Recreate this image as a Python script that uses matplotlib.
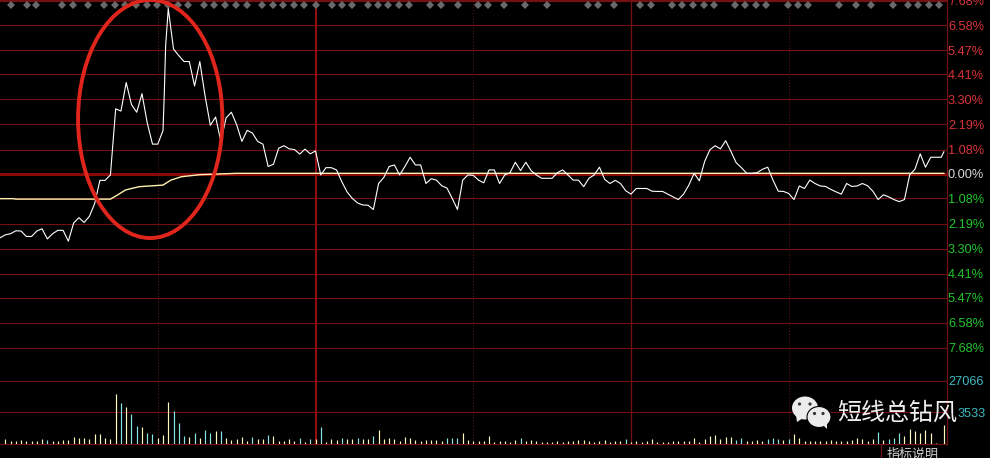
import matplotlib
matplotlib.use("Agg")
import matplotlib.pyplot as plt
from matplotlib.patches import Ellipse, Polygon

plt.rcParams['font.family'] = ['Liberation Sans', 'Noto Sans CJK SC', 'DejaVu Sans']

W, H = 990, 458
PANEL_RIGHT = 946.5
PRICE_BOTTOM = 380.7
VOL_BOTTOM = 444.0

# Price line: time positions and percent change
price_times = sorted([*range(0, 64, 2), 62.5, 63, *range(64, 360, 2), 359])
price_open = [-2.82, -2.69, -2.64, -2.51, -2.52, -2.76, -2.76, -2.52, -2.42, -2.87, -2.64,
              -2.49, -2.49, -2.97, -2.17, -1.93, -2.14, -1.87, -1.31, -0.28, -0.28, -0.04,
              2.88, 2.78, 4.04, 3.07, 2.73, 3.55, 2.26, 1.32, 1.32, 1.92, 3.59, 5.67,
              7.31, 5.52, 5.23, 4.97, 4.97, 3.89, 4.97, 3.45, 2.15, 2.52, 1.44, 2.48, 2.73,
              2.18, 1.44, 1.93, 1.81, 1.44, 1.32, 0.33, 0.43, 1.14, 1.25, 1.11, 1.08, 0.88,
              1.10, 0.89, 1.02]
price_mid = [-0.04, 0.28, 0.28, 0.18, -0.34, -0.79, -1.08, -1.28, -1.37, -1.38, -1.57, -0.42,
             -0.15, 0.33, 0.40, -0.04, 0.33, 0.74, 0.40, 0.40, -0.42, -0.21, -0.27, -0.52,
             -0.62, -1.08, -1.57, -0.27, -0.04, -0.06, -0.27, -0.39, 0.18, 0.18, -0.42, -0.04,
             0.06, 0.52, 0.15, 0.52, 0.15, -0.04, -0.19, -0.19, -0.19, 0.06, 0.18, -0.04,
             -0.27, -0.27, -0.56, -0.19, -0.04, 0.30, -0.24, -0.42, -0.28, -0.42, -0.74, -0.89]
price_late = [-0.64, -0.64, -0.64, -0.76, -0.77, -0.77, -0.89, -1.01, -1.13, -0.89, -0.49, 0.03,
              -0.30, 0.55, 1.07, 1.25, 1.11, 1.47, 1.00, 0.50, 0.28, 0.03, 0.03, 0.06, 0.21,
              0.30, -0.27, -0.76, -0.77, -0.86, -1.13, -0.53, -0.64, -0.27, -0.42, -0.53, -0.55,
              -0.68, -0.79, -0.89, -0.42, -0.55, -0.53, -0.42, -0.52, -0.76, -1.13, -0.92, -1.01,
              -1.13, -1.22, -1.13, -0.04, 0.21, 0.89, 0.30, 0.74, 0.74, 0.74, 0.98]
price_values = price_open + price_mid + price_late

# Average line
avg_times = [0, 5, 6, 42, 44.5, 47.7, 50, 53, 62, 65, 69, 76, 90, 359]
avg_values = [-1.09, -1.09, -1.11, -1.11, -0.94, -0.71, -0.64, -0.56, -0.49, -0.27, -0.12, -0.03, 0.03, 0.03]

# Percent scale
pct_ticks = [7.68, 6.58, 5.47, 4.41, 3.30, 2.19, 1.08, 0.00, -1.08, -2.19, -3.30, -4.41, -5.47, -6.58, -7.68]

# Volume bars
volume = [2240, 1400, 1400, 1820, 1400, 1400, 1400, 2240, 1820, 1400, 1140, 1570, 1820, 3090, 2410,
          2410, 1990, 4230, 4360, 2660, 2240, 21570, 17340, 15950, 12820, 7740, 7320, 4780, 4360,
          2660, 3930, 17890, 14090, 9010, 3510, 3090, 4780, 2660, 6050, 4780, 5630, 5630, 2660,
          1820, 2240, 3090, 1400, 3090, 2240, 2240, 3930, 3510, 1400, 1400, 2240, 1400, 2660, 970,
          2240, 2240, 7320, 970,
          2240, 1820, 2660, 2240, 2240, 2660, 2240, 2240, 3510, 6050, 2240, 2660, 2240, 1400, 3090,
          2660, 1820, 1400, 1820, 1820, 1820, 1400, 2660, 2660, 2660, 4780, 1820, 1140, 1400, 1400,
          3510, 970, 1400, 1400, 970, 1820, 2660, 1400, 1820, 1400, 970, 970, 970, 1400, 970, 1400,
          1400, 1820, 1820, 1400, 970, 1400, 1820, 970, 1400, 1400, 2240, 970, 1400, 970, 1400,
          2240, 970,
          720, 970, 1270, 1270, 1270, 1270, 2540, 970, 2115, 3380, 3810, 2115, 2960, 2960, 1690,
          2540, 1270, 1270, 1690, 1270, 2115, 2540, 2115, 1690, 2115, 4230, 2540, 1270, 1270, 1270,
          1270, 1270, 1690, 1270, 1270, 1270, 1690, 2540, 2115, 1270, 2115, 5080, 1690, 2115, 2540,
          4650, 3380, 6350, 5500, 4650, 5920, 4650, 423, 0, 8040]
bar_times = [*range(2, 360, 2), 359]
cyan_bars = [9, 23, 25, 26, 28, 29, 33, 34, 35, 37, 39, 40, 42, 48, 51, 57, 59, 61,
             65, 68, 71, 85, 86, 87, 99, 119, 140, 141, 146, 147, 148, 150, 167, 169, 170, 171]
vol_ticks = [13533, 27066]
vol_labels = ['3533', '27066']

# Signal diamonds along the top
signal_times = [4.2, 10.3, 13.7, 23.6, 27.8, 33.5, 39.6, 43.8, 47.6, 51.8, 56, 59.8, 64, 67.8, 71.6,
                77.7, 81.5, 85.7, 89.9, 94.1, 99.8, 104, 107.8, 112, 115.8, 120, 126.1, 129.9,
                133.7, 139.8, 143.6, 147.4, 151.6, 155.4, 163.4, 167.6, 174.1, 181.7, 185.5, 191.6,
                199.6, 208, 223.6, 227.4, 233.5, 243.4, 247.6, 255.6, 259.4, 263.6, 267.8, 271.6,
                279.6, 283.4, 287.6, 291.4, 299.8, 303.6, 307.4, 319.2, 325.7, 331.4, 339.8, 345.5,
                349.3, 353.5, 357.3]

GRID = '#721014'
BRIGHT = '#8f0f12'
UP = '#d8343a'
DOWN = '#22c62c'
CYAN = '#3fb8c0'

fig = plt.figure(figsize=(W / 100, H / 100), dpi=100, facecolor='black')

ax = fig.add_axes([0, 1 - PRICE_BOTTOM / H, PANEL_RIGHT / W, PRICE_BOTTOM / H], facecolor='black')
ax.set_xlim(0, 360)
ax.set_ylim(-(PRICE_BOTTOM - 174) / 22.63, 174 / 22.63)

ax.yaxis.tick_right()
ax.set_yticks(pct_ticks)
ax.set_yticklabels([f'{abs(v):.2f}%' for v in pct_ticks], fontsize=9.2)
for lab, v in zip(ax.get_yticklabels(), pct_ticks):
    lab.set_color(UP if v > 0 else DOWN if v < 0 else '#d8d8d8')
ax.tick_params(axis='y', length=0, pad=1)
ax.set_xticks([])
ax.grid(axis='y', color=GRID, lw=0.8)
ax.set_axisbelow(True)
for name, s in ax.spines.items():
    s.set_visible(name == 'right')
    s.set_color(GRID)
    s.set_linewidth(0.9)

ax.axhline(0, color='#8a0808', lw=2.2, zorder=1.5)
ax.axhline(ax.get_ylim()[1] - 0.05, color=GRID, lw=0.9, zorder=1.5)

ax.plot(avg_times, avg_values, color='#fff2b0', lw=1.0, zorder=3)
ax.plot(price_times, price_values, color='white', lw=0.8, zorder=4)
ax.plot(signal_times, [7.47] * len(signal_times), ls='none', marker='D', ms=4.2,
        color='#6a6a6a', mew=0, zorder=2.5)

ax.add_patch(Ellipse((57.14, 2.43), 54.9, 10.52, fill=False, ec='#e0261c', lw=2.8, zorder=5,
                     clip_on=False))

vx = fig.add_axes([0, 1 - VOL_BOTTOM / H, PANEL_RIGHT / W, (VOL_BOTTOM - PRICE_BOTTOM) / H],
                  facecolor='none')
vx.set_xlim(0, 360)
vx.set_ylim(0, 27066)
vx.yaxis.tick_right()
vx.set_yticks(vol_ticks)
vx.set_yticklabels(vol_labels, fontsize=9.2, color=CYAN)
vx.tick_params(axis='y', length=0, pad=1)
vx.yaxis.get_major_ticks()[0].set_pad(8)
vx.set_xticks([])
vx.grid(axis='y', color=GRID, lw=0.8)
vx.set_axisbelow(True)
for name, s in vx.spines.items():
    s.set_visible(name in ('right', 'bottom'))
    s.set_color(GRID)
    s.set_linewidth(0.9)

bar_colors = ['#86e6e6' if (i + 1) in cyan_bars else '#fff8c0' for i in range(len(volume))]
vx.vlines(bar_times, 0, volume, colors=bar_colors, lw=0.85, zorder=3)

for a in (ax, vx):
    a.axvline(120, color=BRIGHT, lw=1.5, zorder=1.6)
    a.axvline(240, color=GRID, lw=0.9, zorder=1.6)
    for t in (60, 180, 300):
        a.axvline(t, color='#6a1414', lw=0.7, ls=(0, (1, 2)), zorder=1.6)

# Overlay in pixel space for the watermark and the button
ov = fig.add_axes([0, 0, 1, 1], facecolor='none')
ov.set_xlim(0, W)
ov.set_ylim(H, 0)
ov.axis('off')
ov.plot([881, 881], [444, 458], color=GRID, lw=0.9)
ov.text(913, 454, '指标说明', color='#d0d0d0', fontsize=9.4, ha='center', va='center',
        family=['Noto Sans CJK SC', 'DejaVu Sans'])

WM = '#ececec'
ov.add_patch(Ellipse((805, 408), 26, 23, fc=WM, ec='none', zorder=6))
ov.add_patch(Polygon([[796, 415], [797, 422], [803, 418]], fc=WM, ec='none', zorder=6))
ov.add_patch(Ellipse((819, 417), 24, 21, fc=WM, ec='black', lw=0.8, zorder=7))
ov.add_patch(Polygon([[822, 424], [827, 429], [827, 423]], fc=WM, ec='none', zorder=7))
for ex, ey in [(799.5, 404), (810, 404), (814.5, 413.5), (823, 413.5)]:
    ov.add_patch(Ellipse((ex, ey), 3.2, 3.2, fc='#333333', ec='none', zorder=8))
ov.text(897.5, 413, '短线总钻风', color='#f0f0f0', fontsize=17.3, ha='center', va='center',
        family=['Noto Sans CJK SC', 'DejaVu Sans'], zorder=8)

fig.savefig('out.png', dpi=100, facecolor='black')
